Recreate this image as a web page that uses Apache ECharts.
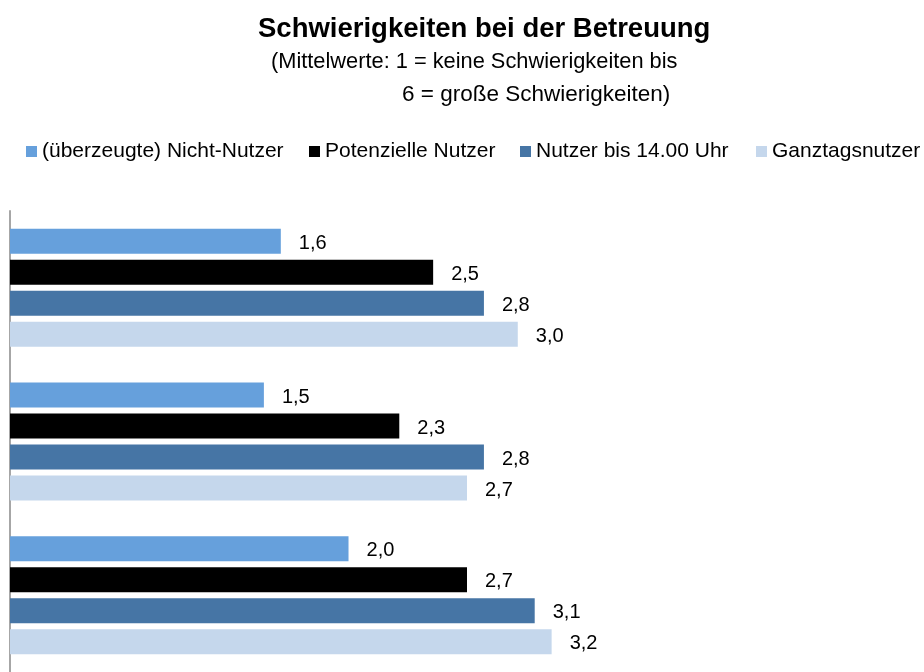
<!DOCTYPE html>
<html>
<head>
<meta charset="utf-8">
<script src="https://cdn.jsdelivr.net/npm/echarts@6/dist/echarts.min.js"></script>
<style>
  html, body { margin: 0; padding: 0; background: #fff; }
  #app { width: 924px; height: 672px; }
</style>
</head>
<body>
<div id="app"></div>
<script>
const FONT = "'Liberation Sans', Arial, sans-serif";

// Kategorien (Beschriftungen im Bild abgeschnitten)
const categories = ["Gruppe 1", "Gruppe 2", "Gruppe 3"];
const seriesNames = [
  "(überzeugte) Nicht-Nutzer",
  "Potenzielle Nutzer",
  "Nutzer bis 14.00 Uhr",
  "Ganztagsnutzer"
];
const nichtNutzer = [1.6, 1.5, 2.0];
const potenzielle = [2.5, 2.3, 2.7];
const bis14 = [2.8, 2.8, 3.1];
const ganztags = [3.0, 2.7, 3.2];
const colors = ["#66a0dc", "#000000", "#4675a5", "#c5d7ec"];
const legendLeft = [26, 309, 520, 756];

const values = [nichtNutzer, potenzielle, bis14, ganztags];

const myChart = echarts.init(document.getElementById("app"));

const option = {
  animation: false,
  textStyle: { fontFamily: FONT },
  title: [
    {
      text: "Schwierigkeiten bei der Betreuung",
      left: 253, top: 10,
      textStyle: { fontFamily: FONT, fontSize: 27.5, fontWeight: "bold", color: "#000" }
    },
    {
      text: "(Mittelwerte: 1 = keine Schwierigkeiten bis",
      left: 266, top: 46,
      textStyle: { fontFamily: FONT, fontSize: 21.8, fontWeight: "normal", color: "#000" }
    },
    {
      text: "6 = große Schwierigkeiten)",
      left: 397, top: 78,
      textStyle: { fontFamily: FONT, fontSize: 22.5, fontWeight: "normal", color: "#000" }
    }
  ],
  legend: seriesNames.map((name, i) => ({
    data: [name],
    left: legendLeft[i],
    top: 141,
    padding: 0,
    icon: "rect",
    itemWidth: 11,
    itemHeight: 11,
    itemGap: 0,
    textStyle: { fontFamily: FONT, fontSize: 21, color: "#000" }
  })),
  grid: { left: 10, top: 211, right: 0, bottom: -4, containLabel: false },
  xAxis: {
    type: "value",
    min: 0,
    max: 5.4,
    show: false
  },
  yAxis: {
    type: "category",
    data: categories,
    inverse: true,
    axisLine: { show: true, lineStyle: { color: "#a6a6a6", width: 2 } },
    axisTick: { show: false },
    axisLabel: { show: false },
    splitLine: { show: false }
  },
  series: seriesNames.map((name, i) => ({
    name: name,
    type: "bar",
    data: values[i],
    barWidth: 25,
    barGap: "24%",
    itemStyle: { color: colors[i] },
    label: {
      show: true,
      position: "right",
      distance: 18,
      offset: [0, 2],
      fontFamily: FONT,
      fontSize: 20,
      color: "#000",
      formatter: (p) => p.value.toFixed(1).replace(".", ",")
    }
  }))
};

myChart.setOption(option);
</script>
</body>
</html>
